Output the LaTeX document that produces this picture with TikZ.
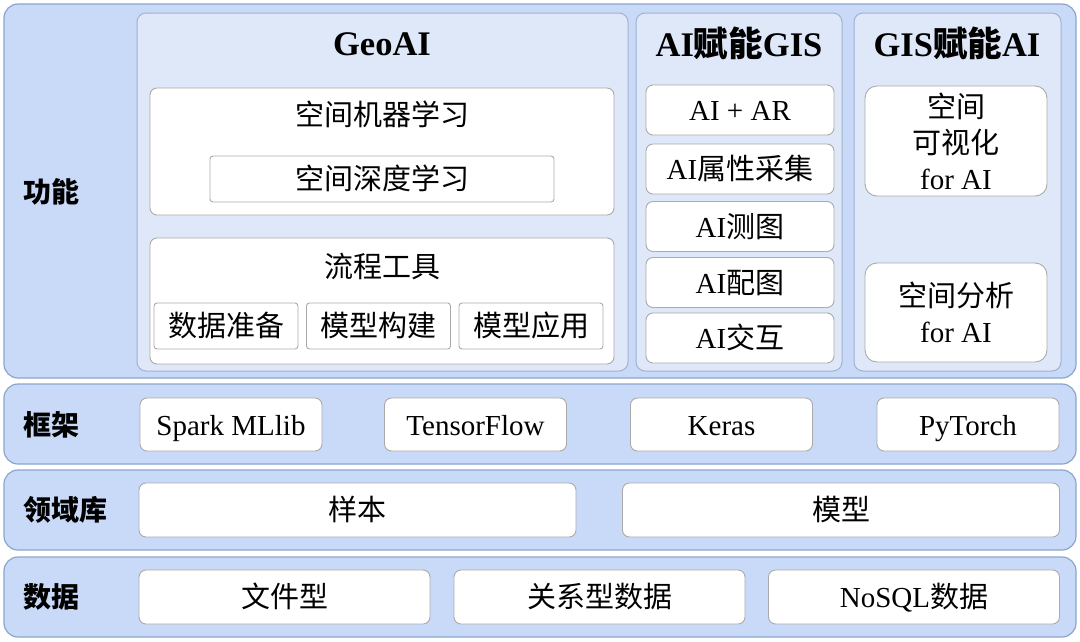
\documentclass[tikz,border=0pt]{standalone}
\usepackage{fontspec}
\setmainfont{Liberation Serif}
\newfontfamily\cjk{Noto Sans CJK SC}
\usetikzlibrary{positioning}
\definecolor{rowblue}{RGB}{201,218,248}
\definecolor{rowedge}{RGB}{140,165,205}
\definecolor{panelblue}{RGB}{222,232,248}
\definecolor{paneledge}{RGB}{160,178,208}
\definecolor{boxedge}{RGB}{170,170,170}
\newcommand{\zh}[1]{{\cjk #1}}

\begin{document}
\begin{tikzpicture}[x=1pt,y=-1pt,
  rowbox/.style={draw=rowedge, fill=rowblue, line width=1.2pt, rounded corners=14pt, minimum width=1072pt, inner sep=0pt},
  panelbox/.style={draw=paneledge, fill=panelblue, line width=1pt, rounded corners=9pt, minimum height=358pt, inner sep=0pt},
  whitebox/.style={draw=boxedge, fill=white, line width=0.9pt, rounded corners=7pt, inner sep=0pt, align=center, font=\fontsize{29}{36}\selectfont},
  onebox/.style={whitebox, text height=21pt, text depth=0pt},
  stepbox/.style={onebox, rounded corners=3pt, minimum width=144pt, minimum height=46pt},
  aibox/.style={onebox, minimum width=188pt, minimum height=50pt},
  fwbox/.style={onebox, minimum width=182pt, minimum height=53pt},
  libbox/.style={onebox, minimum width=437pt, minimum height=54pt},
  databox/.style={onebox, minimum width=291pt, minimum height=54pt},
  rowlabel/.style={anchor=west, font=\fontsize{28}{30}\selectfont\bfseries\cjk},
  paneltitle/.style={font=\fontsize{34.5}{38}\selectfont\bfseries},
  boxtext/.style={font=\fontsize{29}{36}\selectfont}
]
\fill[white] (0,0) rectangle (1080,641);
\useasboundingbox (0,0) rectangle (1080,641);

% layers
\node[rowbox, minimum height=374pt] (fnrow)   at (540,191) {};
\node[rowbox, minimum height=80pt]  (fwrow)   at (540,424) {};
\node[rowbox, minimum height=80pt]  (librow)  at (540,510) {};
\node[rowbox, minimum height=80pt]  (datarow) at (540,597) {};

\node[rowlabel] (fnlab)   at (20,192) {功能};
\node[rowlabel] (fwlab)   at (20,425) {框架};
\node[rowlabel] (liblab)  at (20,510) {领域库};
\node[rowlabel] (datalab) at (20,597) {数据};

% function panels
\node[panelbox, minimum width=491pt] (geo) at (382.5,192) {};
\node[panelbox, minimum width=206pt] (aig) at (739,192) {};
\node[panelbox, minimum width=207pt] (gia) at (957.5,192) {};

\node[paneltitle] (geot) at (382,44) {GeoAI};
\node[paneltitle] (aigt) at (739,43) {AI\zh{赋能}GIS};
\node[paneltitle] (giat) at (957,43) {GIS\zh{赋能}AI};

% GeoAI
\node[whitebox, minimum width=464pt, minimum height=127pt] (ml) at (382,151.5) {};
\node[boxtext] (mlt) at (382,114) {\zh{空间机器学习}};
\node[onebox, rounded corners=3pt, minimum width=344pt, minimum height=46pt] (dl) at (382,179) {\zh{空间深度学习}};

\node[whitebox, minimum width=464pt, minimum height=126pt] (flow) at (382,301) {};
\node[boxtext] (flowt) at (382,266) {\zh{流程工具}};
\node[stepbox] (prep)  at (226,326)   {\zh{数据准备}};
\node[stepbox] (build) at (378.5,326) {\zh{模型构建}};
\node[stepbox] (apply) at (531,326)   {\zh{模型应用}};

% AI for GIS
\node[aibox] (ar)     at (740,110)   {AI + AR};
\node[aibox] (attr)   at (740,169)   {AI\zh{属性采集}};
\node[aibox] (survey) at (740,226.5) {AI\zh{测图}};
\node[aibox] (carto)  at (740,282.5) {AI\zh{配图}};
\node[aibox] (inter)  at (740,338)   {AI\zh{交互}};

% GIS for AI
\node[whitebox, rounded corners=12pt, minimum width=182pt, minimum height=110pt] (vis) at (956,141)
  {\zh{空间}\\\zh{可视化}\\for AI};
\node[whitebox, rounded corners=12pt, minimum width=182pt, minimum height=99pt] (ana) at (956,312.5)
  {\zh{空间分析}\\for AI};

% frameworks
\node[fwbox] (spark) at (231,424.5)   {Spark MLlib};
\node[fwbox] (tf)    at (475.5,424.5) {TensorFlow};
\node[fwbox] (keras) at (721.5,424.5) {Keras};
\node[fwbox] (torch) at (968,424.5)   {PyTorch};

% domain library
\node[libbox] (sample) at (357.5,510) {\zh{样本}};
\node[libbox] (model)  at (841,510)   {\zh{模型}};

% data
\node[databox] (file)  at (284.5,597) {\zh{文件型}};
\node[databox] (rel)   at (599.5,597) {\zh{关系型数据}};
\node[databox] (nosql) at (914,597)   {NoSQL\zh{数据}};
\end{tikzpicture}
\end{document}
